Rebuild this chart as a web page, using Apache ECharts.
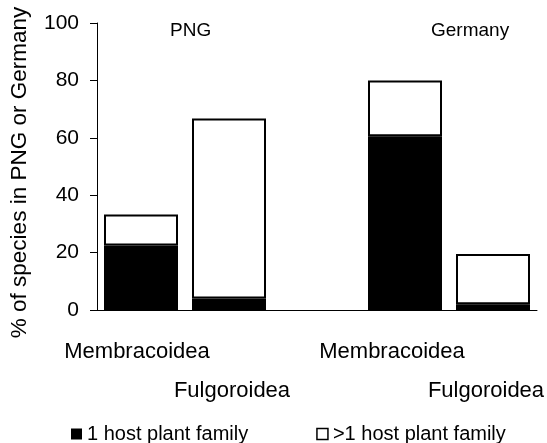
<!DOCTYPE html>
<html>
<head>
<meta charset="utf-8">
<script src="https://cdn.jsdelivr.net/npm/echarts@6/dist/echarts.min.js"></script>
<style>
  html, body { margin: 0; padding: 0; background: #fff; }
  #chart { width: 547px; height: 443px; }
</style>
</head>
<body>
<div id="chart"></div>
<script>
// regions shown as two groups of bars, with an empty slot between them
const groups = ['PNG', 'Germany']
const taxa = ['Membracoidea', 'Fulgoroidea', '', 'Membracoidea', 'Fulgoroidea']
const oneHost = [22.5, 4, null, 60.5, 2]
const moreHosts = [10.8, 62.7, null, 19.5, 17.5]
const seriesNames = ['1 host plant family', '>1 host plant family']
const yTicks = [0, 20, 40, 60, 80, 100]

const font = 'Liberation Sans, Arial, sans-serif'
// which rich style each x label uses (second row for Fulgoroidea)
const labelStyles = ['m', 'f', 'm', 'mg', 'fg']

const chart = echarts.init(document.getElementById('chart'))

chart.setOption({
  animation: false,
  backgroundColor: '#fff',
  textStyle: { fontFamily: font, color: '#000' },
  grid: { left: 97, right: 10, top: 23, bottom: 133, outerBoundsMode: 'none' },
  legend: {
    left: 71,
    top: 424,
    padding: 0,
    itemGap: 68,
    itemWidth: 11,
    itemHeight: 11,
    textStyle: { fontSize: 20, color: '#000', fontFamily: font },
    data: [
      { name: seriesNames[0], icon: 'rect', itemStyle: { color: '#000', borderWidth: 0 } },
      { name: seriesNames[1], icon: 'rect', itemStyle: { color: '#fff', borderColor: '#000', borderWidth: 1.5 } }
    ]
  },
  xAxis: {
    type: 'category',
    data: taxa,
    axisLine: { lineStyle: { color: '#000', width: 1 } },
    axisTick: {
      length: 7,
      lineStyle: { color: '#000' },
      // no tick between the empty slot and the Germany group
      interval: (i) => i !== 3
    },
    axisLabel: {
      interval: 0,
      margin: 30,
      color: '#000',
      fontSize: 22,
      formatter: (v, i) => (v ? '{' + labelStyles[i] + '|' + v + '}' : ''),
      rich: {
        m: { fontSize: 22, lineHeight: 24, padding: [0, 8, 0, 0] },
        f: { fontSize: 22, lineHeight: 24, padding: [78, 0, 0, 6] },
        mg: { fontSize: 22, lineHeight: 24, padding: [0, 26, 0, 0] },
        fg: { fontSize: 22, lineHeight: 24, padding: [78, 14, 0, 0] }
      }
    },
    splitLine: { show: false }
  },
  yAxis: {
    type: 'value',
    min: yTicks[0],
    max: yTicks[yTicks.length - 1],
    interval: yTicks[1] - yTicks[0],
    name: '% of species in PNG or Germany',
    nameLocation: 'middle',
    nameGap: 66,
    nameTextStyle: { fontSize: 22.5, color: '#000', fontFamily: font, padding: [0, 0, 0, -12] },
    axisLine: { show: true, lineStyle: { color: '#000', width: 1 } },
    axisTick: { show: true, length: 7, lineStyle: { color: '#000' } },
    axisLabel: { margin: 18, fontSize: 21, color: '#000' },
    splitLine: { show: false }
  },
  graphic: [
    { type: 'text', left: 170, top: 21, style: { text: groups[0], fontSize: 19, fontFamily: font, fill: '#000' } },
    { type: 'text', left: 431, top: 21, style: { text: groups[1], fontSize: 19, fontFamily: font, fill: '#000' } }
  ],
  series: [
    {
      name: seriesNames[0],
      type: 'bar',
      stack: 'hosts',
      barWidth: 74,
      data: oneHost,
      itemStyle: { color: '#000', borderColor: '#000', borderWidth: 2 }
    },
    {
      name: seriesNames[1],
      type: 'bar',
      stack: 'hosts',
      barWidth: 74,
      data: moreHosts,
      itemStyle: { color: '#fff', borderColor: '#000', borderWidth: 2 }
    }
  ]
})
</script>
</body>
</html>
